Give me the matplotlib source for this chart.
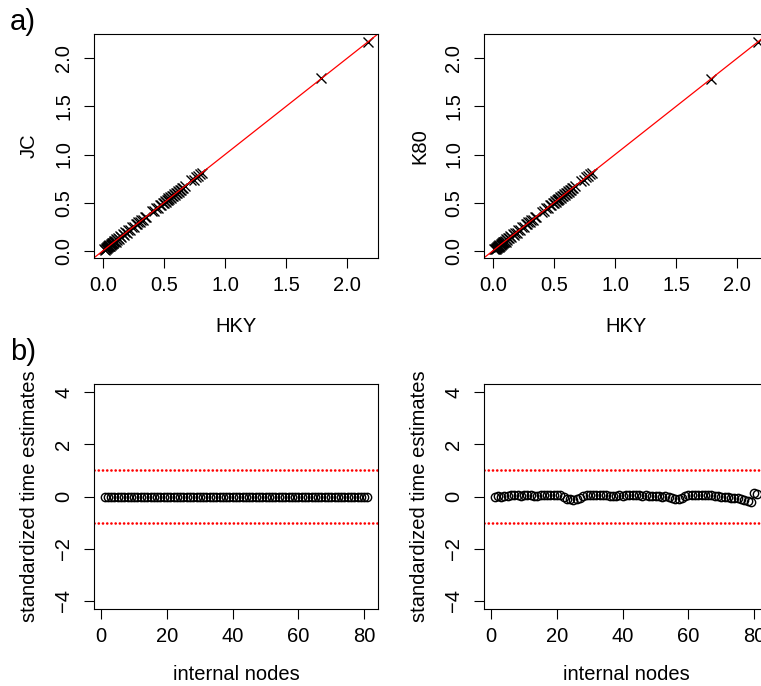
import matplotlib
matplotlib.use("Agg")
import matplotlib.pyplot as plt
import numpy as np

plt.rcParams['font.family'] = ['Liberation Sans', 'DejaVu Sans']

# branch/node time estimates under the three substitution models
hky = [0.012, 0.018, 0.022, 0.025, 0.030, 0.034, 0.038, 0.041, 0.045, 0.050,
       0.053, 0.058, 0.062, 0.066, 0.070, 0.074, 0.079, 0.084, 0.088, 0.093,
       0.098, 0.104, 0.110, 0.117, 0.125, 0.133, 0.142, 0.150, 0.163, 0.171,
       0.182, 0.195, 0.207, 0.221, 0.236, 0.250, 0.268, 0.281, 0.290, 0.302,
       0.315, 0.327, 0.340, 0.356, 0.402, 0.415, 0.438, 0.452, 0.466, 0.475,
       0.488, 0.497, 0.508, 0.515, 0.522, 0.530, 0.536, 0.543, 0.550, 0.557,
       0.565, 0.572, 0.580, 0.588, 0.596, 0.603, 0.611, 0.620, 0.628, 0.637,
       0.645, 0.655, 0.668, 0.724, 0.742, 0.760, 0.781, 0.795, 0.812, 1.787,
       2.168]
jc = [0.020, 0.012, 0.030, 0.018, 0.036, 0.028, 0.045, 0.034, 0.052, 0.044,
      0.060, 0.051, 0.069, 0.058, 0.078, 0.066, 0.085, 0.077, 0.096, 0.086,
      0.104, 0.095, 0.118, 0.110, 0.132, 0.126, 0.150, 0.144, 0.169, 0.165,
      0.190, 0.188, 0.214, 0.215, 0.243, 0.245, 0.274, 0.276, 0.297, 0.296,
      0.322, 0.321, 0.346, 0.351, 0.408, 0.410, 0.445, 0.447, 0.472, 0.470,
      0.494, 0.492, 0.515, 0.510, 0.530, 0.524, 0.543, 0.537, 0.557, 0.551,
      0.572, 0.566, 0.587, 0.582, 0.603, 0.597, 0.618, 0.613, 0.635, 0.630,
      0.652, 0.649, 0.674, 0.730, 0.738, 0.766, 0.777, 0.800, 0.808, 1.792,
      2.172]
k80 = [0.019, 0.013, 0.029, 0.019, 0.037, 0.027, 0.044, 0.035, 0.053, 0.043,
       0.059, 0.052, 0.068, 0.059, 0.077, 0.067, 0.086, 0.076, 0.095, 0.087,
       0.105, 0.094, 0.117, 0.111, 0.131, 0.127, 0.149, 0.145, 0.170, 0.164,
       0.189, 0.189, 0.213, 0.216, 0.242, 0.246, 0.273, 0.277, 0.296, 0.297,
       0.321, 0.322, 0.347, 0.350, 0.407, 0.411, 0.444, 0.448, 0.471, 0.471,
       0.493, 0.493, 0.514, 0.511, 0.529, 0.525, 0.542, 0.538, 0.556, 0.552,
       0.571, 0.567, 0.586, 0.583, 0.602, 0.598, 0.617, 0.614, 0.634, 0.631,
       0.651, 0.650, 0.673, 0.729, 0.739, 0.765, 0.778, 0.799, 0.809, 1.790,
       2.171]

# standardized differences per internal node
nodes = list(range(1, 82))
std_jc = [0.0] * 81
std_k80 = [0.00, 0.01, 0.00, 0.02, 0.03, 0.04, 0.05, 0.04, 0.03, 0.04,
           0.05, 0.04, 0.03, 0.02, 0.04, 0.05, 0.06, 0.05, 0.06, 0.07,
           0.05, -0.02, -0.08, -0.11, -0.12, -0.09, -0.04, 0.02, 0.05, 0.06,
           0.05, 0.04, 0.05, 0.06, 0.04, 0.03, 0.02, 0.03, 0.04, 0.03,
           0.04, 0.05, 0.06, 0.05, 0.04, 0.03, 0.04, 0.02, 0.01, 0.02,
           0.01, 0.00, 0.01, -0.02, -0.05, -0.09, -0.11, -0.05, 0.02, 0.04,
           0.05, 0.06, 0.05, 0.06, 0.07, 0.06, 0.05, 0.03, 0.01, 0.00,
           -0.03, -0.02, -0.05, -0.07, -0.06, -0.10, -0.14, -0.18, -0.20, 0.13,
           0.09]

W, H = 761, 686
fig = plt.figure(figsize=(W / 100, H / 100), dpi=100)


def px_axes(left, top, right, bottom):
    return fig.add_axes([left / W, 1 - bottom / H, (right - left) / W, (bottom - top) / H])


def style(ax):
    for s in ax.spines.values():
        s.set_linewidth(0.8)
    ax.tick_params(direction="out", length=7, width=0.8, labelsize=14.5)
    ax.tick_params(axis="x", pad=6)
    ax.tick_params(axis="y", pad=8, labelrotation=90)
    for t in ax.get_yticklabels():
        t.set_va("center")


def scatter_panel(ax, x, y, ylab):
    ax.plot(x, y, "x", color="black", ms=6.5, mew=1.0, ls="none")
    ax.axline((0, 0), slope=1, color="red", lw=0.9)
    ax.set_xlim(-0.074, 2.254)
    ax.set_ylim(-0.076, 2.253)
    ax.set_xticks([0, 0.5, 1.0, 1.5, 2.0])
    ax.set_yticks([0, 0.5, 1.0, 1.5, 2.0])
    ax.set_xticklabels(["0.0", "0.5", "1.0", "1.5", "2.0"])
    ax.set_yticklabels(["0.0", "0.5", "1.0", "1.5", "2.0"])
    ax.set_xlabel("HKY", fontsize=14.5, labelpad=16)
    ax.set_ylabel(ylab, fontsize=14.5, labelpad=11)
    style(ax)


def std_panel(ax, vals):
    for lvl in (1, -1):
        ax.axhline(lvl, color="red", lw=1.9, ls=(0, (0.05, 1.55)),
                   dash_capstyle="round")
    ax.plot(nodes, vals, "o", mfc="none", mec="black", ms=6, mew=1.0, ls="none")
    ax.set_xlim(-2.2, 84.2)
    ax.set_ylim(-4.32, 4.32)
    ax.set_xticks([0, 20, 40, 60, 80])
    ax.set_yticks([-4, -2, 0, 2, 4])
    ax.set_yticklabels(["\u22124", "\u22122", "0", "2", "4"])
    ax.set_xlabel("internal nodes", fontsize=14.5, labelpad=14)
    ax.set_ylabel("standardized time estimates", fontsize=14.5, labelpad=11)
    style(ax)


ax1 = px_axes(94, 34, 378, 258)
scatter_panel(ax1, hky, jc, "JC")
ax2 = px_axes(484, 34, 768, 258)
scatter_panel(ax2, hky, k80, "K80")
ax3 = px_axes(94, 384, 378, 609)
std_panel(ax3, std_jc)
ax4 = px_axes(484, 384, 768, 609)
std_panel(ax4, std_k80)

fig.text(10 / W, 1 - 22 / H, "a)", fontsize=21, va="center", ha="left")
fig.text(10 / W, 1 - 352 / H, "b)", fontsize=21, va="center", ha="left")

fig.savefig("out.png", dpi=100)
